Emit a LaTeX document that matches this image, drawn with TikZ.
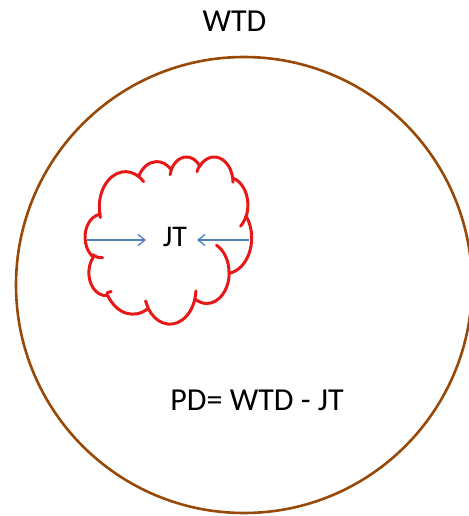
\documentclass[tikz,border=0pt]{standalone}
\usepackage{fontspec}
\setmainfont{Carlito}
\usetikzlibrary{arrows.meta}
\definecolor{ringbrown}{HTML}{984807}
\definecolor{cloudred}{HTML}{E81818}
\definecolor{arrowblue}{HTML}{4F81BD}
\tikzset{
  ring/.style={draw=ringbrown, line width=2.6pt},
  cloudline/.style={draw=cloudred, line width=3pt, line join=round, line cap=round},
  cloudinner/.style={draw=cloudred, line width=3pt, line cap=round},
  pointer/.style={draw=arrowblue, line width=1.3pt, -{Straight Barb[length=7pt,width=11pt]}},
  label/.style={inner sep=0pt, anchor=base, font=\fontsize{32}{38}\selectfont}
}
\begin{document}
\begin{tikzpicture}[x=1pt,y=1pt]
\useasboundingbox (0,0) rectangle (468,-516);
% outer circle
\draw[ring] (244,-285) circle[radius=228pt];
% cloud (Office cloud outline)
\begin{scope}[shift={(84.4,-156.4)}, xscale=3.87, yscale=-3.87]
\filldraw[cloudline, fill=white] (3.900,14.370)
  arc[start angle=-187.75, end angle=-59.64, x radius=6.753pt, y radius=9.190pt]
  arc[start angle=-151.98, end angle=-45.49, x radius=5.333pt, y radius=7.267pt]
  arc[start angle=-153.46, end angle=-37.34, x radius=4.365pt, y radius=5.945pt]
  arc[start angle=-139.79, end angle=-10.20, x radius=4.857pt, y radius=6.595pt]
  arc[start angle=-74.80, end angle=23.26, x radius=5.333pt, y radius=7.273pt]
  arc[start angle=-37.52, end angle=81.86, x radius=6.775pt, y radius=9.220pt]
  arc[start angle=0.46, end angle=122.0, x radius=5.785pt, y radius=7.867pt]
  arc[start angle=16.89, end angle=146.14, x radius=6.752pt, y radius=9.215pt]
  arc[start angle=59.08, end angle=147.30, x radius=7.720pt, y radius=10.543pt]
  arc[start angle=83.29, end angle=223.05, x radius=4.360pt, y radius=5.918pt]
  arc[start angle=120.21, end angle=264.14, x radius=4.345pt, y radius=5.945pt]
  -- cycle;
\draw[cloudinner]
  (4.693,26.177) arc[start angle=85.57, end angle=120.21, x radius=4.345pt, y radius=5.945pt]
  (6.928,34.899) arc[start angle=68.19, end angle=83.29, x radius=4.360pt, y radius=5.918pt]
  (16.478,39.090) arc[start angle=146.14, end angle=158.41, x radius=6.752pt, y radius=9.215pt]
  (28.827,34.751) arc[start angle=4.75, end angle=16.89, x radius=6.752pt, y radius=9.215pt]
  (34.129,22.954) arc[start angle=-64.0, end angle=0.46, x radius=5.785pt, y radius=7.867pt]
  (41.798,15.354) arc[start angle=23.26, end angle=49.71, x radius=5.333pt, y radius=7.273pt]
  (38.324,5.426) arc[start angle=-10.20, end angle=0.82, x radius=4.857pt, y radius=6.595pt]
  (29.078,3.952) arc[start angle=-156.33, end angle=-139.79, x radius=4.857pt, y radius=6.595pt]
  (22.141,4.720) arc[start angle=-167.71, end angle=-153.46, x radius=4.365pt, y radius=5.945pt]
  (14.000,5.192) arc[start angle=-59.64, end angle=-45.74, x radius=6.753pt, y radius=9.190pt]
  (4.127,15.789) arc[start angle=163.19, end angle=172.25, x radius=6.753pt, y radius=9.190pt];
\end{scope}
% texts
\node[label] (wtd) at (234.5,-31.5) {WTD};
\node[label, font=\fontsize{30}{36}\selectfont] (jt) at (175,-246) {JT};
\node[label] (pd) at (257,-410) {PD= WTD - JT};
% arrows
\coordinate (lstart) at (87,-240);
\coordinate (ltip) at (146,-240);
\coordinate (rstart) at (249,-240);
\coordinate (rtip) at (197,-240);
\draw[pointer] (lstart) -- (ltip);
\draw[pointer] (rstart) -- (rtip);
\end{tikzpicture}
\end{document}
